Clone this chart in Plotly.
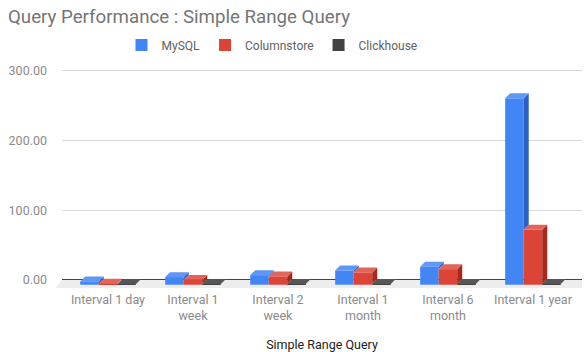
import plotly.graph_objects as go

categories = ["Interval 1 day", "Interval 1<br>week", "Interval 2<br>week",
              "Interval 1<br>month", "Interval 6<br>month", "Interval 1 year"]
series_names = ["MySQL", "Columnstore", "Clickhouse"]
mysql = [4.8, 11.0, 13.8, 20.5, 26.0, 268.0]
columnstore = [1.5, 7.0, 12.0, 17.7, 22.4, 79.0]
clickhouse = [0.8, 0.9, 1.0, 1.0, 1.1, 1.2]
y_ticks = [0, 100, 200, 300]

front_colors = ["#4285f4", "#db4437", "#424242"]
top_colors = ["#5e97f6", "#e0655a", "#565656"]
side_colors = ["#2d5ec8", "#a8291c", "#2e2e2e"]

values = [mysql, columnstore, clickhouse]

# geometry of the pseudo-3D look
BAR_W = 0.218
DX = 0.059          # depth in x units
DEPTH = 7.1         # depth in y units
Y_MIN, Y_MAX = -11.8, 305.7
X_MIN, X_MAX = -0.541, 5.577

idx = list(range(len(categories)))
offsets = [-BAR_W, 0.0, BAR_W]

fig = go.Figure()

# front faces (real bars)
for s, name in enumerate(series_names):
    fig.add_trace(go.Bar(
        x=[i + offsets[s] for i in idx],
        y=values[s],
        base=[-DEPTH] * len(idx),
        width=BAR_W,
        name=name,
        marker=dict(color=front_colors[s], line=dict(width=0)),
        hoverinfo="skip",
    ))

# top and side faces derived from the same values
for s in range(len(series_names)):
    tx, ty, sx, sy = [], [], [], []
    for i in idx:
        v = values[s][i]
        vn = values[s + 1][i] if s + 1 < len(values) else 0.0
        xl = i + offsets[s] - BAR_W / 2
        xr = xl + BAR_W
        tx += [xl, xl + DX, xr + DX, xr, xl, None]
        ty += [v - DEPTH, v, v, v - DEPTH, v - DEPTH, None]
        if vn < v:
            b = max(vn, 0.0)
            sx += [xr, xr + DX, xr + DX, xr, xr, None]
            sy += [b - DEPTH, b, v, v - DEPTH, b - DEPTH, None]
    fig.add_trace(go.Scatter(x=sx, y=sy, mode="lines", fill="toself",
                             fillcolor=side_colors[s], line=dict(width=0, color=side_colors[s]),
                             showlegend=False, hoverinfo="skip"))
    fig.add_trace(go.Scatter(x=tx, y=ty, mode="lines", fill="toself",
                             fillcolor=top_colors[s], line=dict(width=0, color=top_colors[s]),
                             showlegend=False, hoverinfo="skip"))

y0p = (0 - Y_MIN) / (Y_MAX - Y_MIN)
fig.add_shape(type="path", xref="paper", yref="paper",
              path=f"M 0,{y0p} L 1,{y0p} L 1,0 L -0.012,0 Z",
              fillcolor="#ededed", line=dict(width=0), layer="below")

fig.update_layout(
    width=584, height=352,
    margin=dict(l=62, r=2, t=67, b=62),
    paper_bgcolor="white", plot_bgcolor="white",
    barmode="overlay",
    font=dict(family="Roboto", size=12.5, color="#757575"),
    title=dict(text="Query Performance : Simple Range Query",
               x=8 / 584, xanchor="left", xref="container",
               y=1 - 16 / 352, yanchor="middle", yref="container",
               font=dict(family="Roboto", size=18.7, color="#757575")),
    legend=dict(orientation="h", x=272 / 584, xanchor="center", xref="container",
                y=1 - 45 / 352, yanchor="middle", yref="container",
                font=dict(size=12, color="#616161"), itemclick=False),
    showlegend=True,
    xaxis=dict(range=[X_MIN, X_MAX], tickvals=idx, ticktext=categories,
               showgrid=False, zeroline=False, showline=False, ticks="",
               ticklabelstandoff=2,
               tickfont=dict(size=12.5, color="#8a8a8a"),
               title=dict(text="Simple Range Query", standoff=18,
                          font=dict(size=12.5, color="#222222"))),
    yaxis=dict(range=[Y_MIN, Y_MAX], tickvals=y_ticks, tickformat=".2f",
               showgrid=True, gridcolor="#d9d9d9", gridwidth=1,
               zeroline=True, zerolinecolor="#444444", zerolinewidth=1,
               showline=False, ticks="", ticklabelstandoff=14,
               tickfont=dict(size=12.5, color="#8a8a8a")),
)

fig.write_html("out.html")
